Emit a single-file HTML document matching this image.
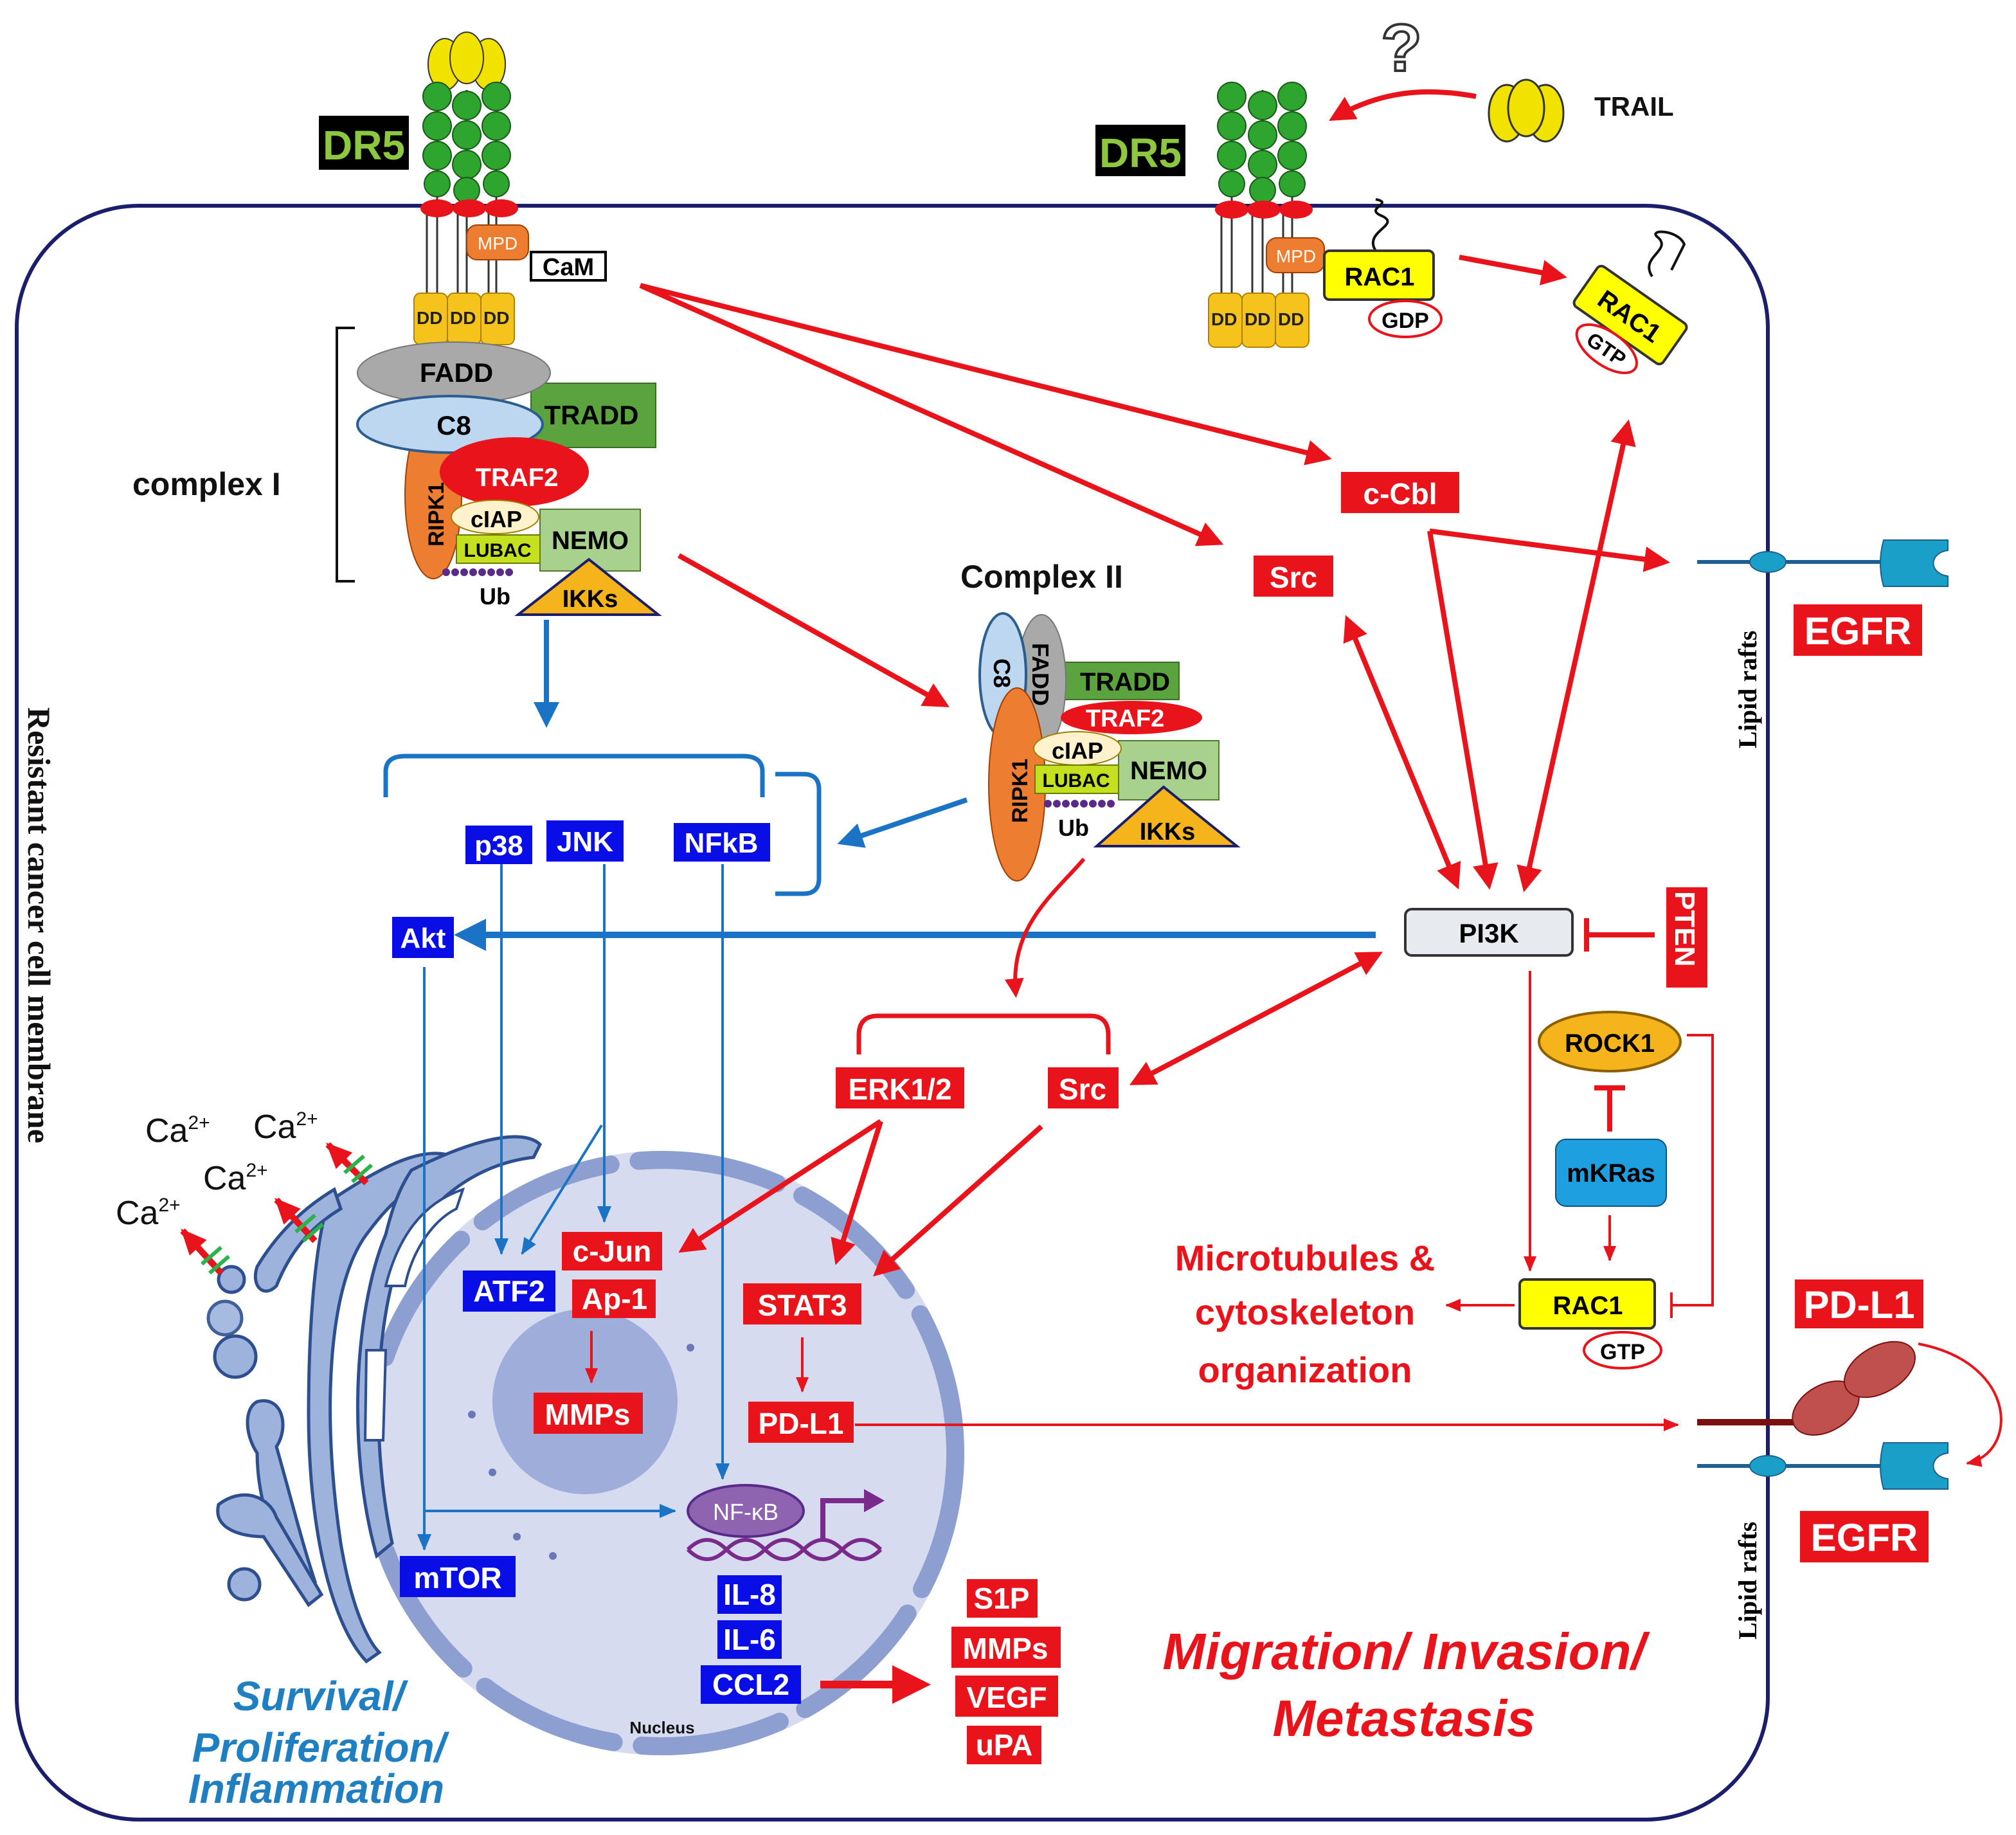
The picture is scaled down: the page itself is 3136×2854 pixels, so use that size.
<!DOCTYPE html>
<html><head><meta charset="utf-8"><style>
html,body{margin:0;padding:0;background:#fff}
svg{display:block}
text{font-family:"Liberation Sans",sans-serif;font-weight:bold}
.w{fill:#fff}
</style></head><body>
<svg width="3136" height="2854" viewBox="0 0 1568 1427" xmlns="http://www.w3.org/2000/svg">
<defs>
<marker id="ar" markerWidth="5" markerHeight="5" refX="4" refY="2.5" orient="auto" markerUnits="strokeWidth"><path d="M0,0 L5,2.5 L0,5z" fill="#e8131b"/></marker>
<marker id="ars" markerWidth="5" markerHeight="5" refX="1" refY="2.5" orient="auto" markerUnits="strokeWidth"><path d="M5,0 L0,2.5 L5,5z" fill="#e8131b"/></marker>
<marker id="art" markerWidth="12" markerHeight="10" refX="11" refY="5" orient="auto" markerUnits="userSpaceOnUse"><path d="M0,0 L12,5 L0,10z" fill="#e8131b"/></marker>
<marker id="arc" markerWidth="20" markerHeight="18" refX="18" refY="9" orient="auto" markerUnits="userSpaceOnUse"><path d="M0,0 L20,9 L0,18z" fill="#e8131b"/></marker>
<marker id="ab" markerWidth="5" markerHeight="5" refX="4" refY="2.5" orient="auto" markerUnits="strokeWidth"><path d="M0,0 L5,2.5 L0,5z" fill="#1a73c4"/></marker>
<marker id="abt" markerWidth="13" markerHeight="11" refX="12" refY="5.5" orient="auto" markerUnits="userSpaceOnUse"><path d="M0,0 L13,5.5 L0,11z" fill="#1a73c4"/></marker>
</defs>

<!-- membrane -->
<rect x="13" y="160" width="1362" height="1255" rx="95" fill="none" stroke="#1b1f6b" stroke-width="3"/>
<text transform="translate(22,550) rotate(90)" style="font-family:'Liberation Serif',serif;font-size:25px" fill="#111">Resistant cancer cell membrane</text>

<!-- nucleus -->
<circle cx="515" cy="1130" r="235" fill="#d6dbef"/>
<circle cx="515" cy="1130" r="228" fill="none" stroke="#8d9fd0" stroke-width="14" stroke-dasharray="110 22" stroke-linecap="round"/>
<ellipse cx="455" cy="1090" rx="72" ry="72" fill="#9eadd9"/>
<g fill="#6b78b8"><circle cx="367" cy="1100" r="3"/><circle cx="383" cy="1145" r="3"/><circle cx="402" cy="1195" r="3"/><circle cx="430" cy="1210" r="3"/><circle cx="537" cy="1048" r="3"/></g>
<text x="515" y="1348" font-size="13" text-anchor="middle" fill="#111">Nucleus</text>

<!-- ER/golgi approximation -->
<g fill="#9eb3dc" stroke="#2d4f8f" stroke-width="2.5">
<path d="M255,935 C300,905 330,890 355,900 L355,915 C320,915 300,940 285,960 C255,1000 250,1100 265,1200 C275,1260 290,1280 295,1285 L285,1292 C255,1260 240,1180 240,1100 C240,1030 245,970 255,935z"/>
<path d="M320,910 C380,880 410,880 420,890 L415,900 C370,905 330,935 310,980 C290,1040 290,1130 305,1200 L293,1210 C270,1130 275,1020 300,960 C305,940 310,925 320,910z"/>
<path d="M200,985 C215,960 235,940 260,925 L265,940 C240,955 225,975 215,1000 C205,1010 195,1000 200,985z"/>
<circle cx="183" cy="1055" r="16"/>
<path d="M200,1090 C220,1085 225,1110 215,1125 C225,1160 235,1200 245,1230 L232,1235 C210,1200 200,1160 200,1130 C190,1115 190,1095 200,1090z"/>
<path d="M170,1170 C190,1155 210,1165 215,1180 L250,1240 L240,1248 L205,1195 C190,1195 165,1190 170,1170z"/>
<circle cx="175" cy="1025" r="13" opacity="0.9"/>
<circle cx="180" cy="995" r="10"/>
<circle cx="190" cy="1232" r="12"/>
</g>
<g fill="#fff" stroke="#2d4f8f" stroke-width="2">
<path d="M300,1000 C310,960 330,935 360,925 L355,940 C335,950 320,975 315,1000z"/>
<path d="M285,1050 L300,1050 L298,1120 L284,1120z"/>
</g>
<!-- Ca -->
<g font-size="26" fill="#111">
<text x="113" y="888" style="font-weight:normal">Ca<tspan font-size="15" dy="-10">2+</tspan></text>
<text x="197" y="885" style="font-weight:normal">Ca<tspan font-size="15" dy="-10">2+</tspan></text>
<text x="158" y="925" style="font-weight:normal">Ca<tspan font-size="15" dy="-10">2+</tspan></text>
<text x="90" y="952" style="font-weight:normal">Ca<tspan font-size="15" dy="-10">2+</tspan></text>
</g>
<g stroke="#e8131b" stroke-width="5" marker-end="url(#arc)">
<line x1="172" y1="990" x2="142" y2="957"/><line x1="245" y1="965" x2="215" y2="933"/><line x1="285" y1="920" x2="255" y2="890"/>
</g>
<g stroke="#2bb24a" stroke-width="3"><line x1="157" y1="983" x2="172" y2="970"/><line x1="163" y1="990" x2="178" y2="977"/><line x1="230" y1="958" x2="245" y2="945"/><line x1="236" y1="965" x2="251" y2="952"/><line x1="268" y1="912" x2="283" y2="899"/><line x1="274" y1="919" x2="289" y2="906"/></g>

<!-- left DR5 -->
<rect x="248" y="90" width="70" height="42" fill="#000"/><text x="283" y="124" font-size="32" text-anchor="middle" fill="#8dc63f">DR5</text>
<g stroke="#333" stroke-width="1.5"><line x1="340" y1="70" x2="340" y2="245"/><line x1="363" y1="70" x2="363" y2="245"/><line x1="386" y1="70" x2="386" y2="245"/><line x1="332" y1="160" x2="332" y2="245"/><line x1="356" y1="160" x2="356" y2="245"/><line x1="380" y1="160" x2="380" y2="245"/></g>
<g fill="#f2e200" stroke="#333"><ellipse cx="346" cy="50" rx="13" ry="20"/><ellipse cx="380" cy="50" rx="13" ry="20"/><ellipse cx="363" cy="45" rx="13" ry="20"/></g>
<g fill="#2ea52e" stroke="#1a5a1a">
<circle cx="340" cy="75" r="11"/><circle cx="340" cy="98" r="11"/><circle cx="340" cy="121" r="11"/><circle cx="340" cy="143" r="10"/>
<circle cx="363" cy="82" r="11"/><circle cx="363" cy="105" r="11"/><circle cx="363" cy="128" r="11"/><circle cx="363" cy="148" r="10"/>
<circle cx="386" cy="75" r="11"/><circle cx="386" cy="98" r="11"/><circle cx="386" cy="121" r="11"/><circle cx="386" cy="143" r="10"/></g>
<g fill="#e8131b"><ellipse cx="340" cy="162" rx="13" ry="7"/><ellipse cx="365" cy="162" rx="13" ry="7"/><ellipse cx="390" cy="162" rx="13" ry="7"/></g>
<rect x="363" y="175" width="48" height="27" rx="8" fill="#ed7d31" stroke="#a04000"/><text x="387" y="194" font-size="14" text-anchor="middle" fill="#fff" style="font-weight:normal">MPD</text>
<rect x="413" y="196" width="58" height="22" fill="#fff" stroke="#000" stroke-width="2"/><text x="442" y="214" font-size="19" text-anchor="middle">CaM</text>
<g fill="#f6c21c" stroke="#b08000"><rect x="322" y="228" width="26" height="40" rx="5"/><rect x="348" y="228" width="26" height="40" rx="5"/><rect x="374" y="228" width="26" height="40" rx="5"/></g>
<g font-size="14" style="font-weight:normal" fill="#222"><text x="324" y="252">DD</text><text x="350" y="252">DD</text><text x="376" y="252">DD</text></g>

<!-- complex I -->
<path d="M276,255 L262,255 L262,452 L276,452" fill="none" stroke="#111" stroke-width="2"/>
<text x="103" y="385" font-size="25" fill="#111">complex I</text>
<rect x="413" y="298" width="97" height="50" fill="#5aa33e" stroke="#3b6e28"/><text x="460" y="330" font-size="21" text-anchor="middle">TRADD</text>
<ellipse cx="337" cy="385" rx="22" ry="65" fill="#ed7d31" stroke="#a04000"/><text transform="translate(345,425) rotate(-90)" font-size="17">RIPK1</text>
<ellipse cx="353" cy="290" rx="75" ry="24" fill="#a9a9a9" stroke="#777"/><text x="355" y="297" font-size="21" text-anchor="middle">FADD</text>
<ellipse cx="350" cy="330" rx="72" ry="22" fill="#bcd7ef" stroke="#2d5d8f" stroke-width="2"/><text x="353" y="338" font-size="21" text-anchor="middle">C8</text>
<ellipse cx="400" cy="367" rx="58" ry="27" fill="#e8131b"/><text x="402" y="378" font-size="20" text-anchor="middle" class="w">TRAF2</text>
<rect x="420" y="396" width="78" height="48" fill="#a9d18e" stroke="#4f7a30"/><text x="459" y="427" font-size="20" text-anchor="middle">NEMO</text>
<ellipse cx="385" cy="402" rx="34" ry="13" fill="#fff2cc" stroke="#a08000"/><text x="386" y="410" font-size="18" text-anchor="middle">cIAP</text>
<rect x="355" y="416" width="65" height="22" fill="#c5e01e" stroke="#6a7a00"/><text x="387" y="433" font-size="15" text-anchor="middle">LUBAC</text>
<g fill="#5a2a8a"><circle cx="347" cy="445" r="3"/><circle cx="354" cy="445" r="3"/><circle cx="361" cy="445" r="3"/><circle cx="368" cy="445" r="3"/><circle cx="375" cy="445" r="3"/><circle cx="382" cy="445" r="3"/><circle cx="389" cy="445" r="3"/><circle cx="396" cy="445" r="3"/></g>
<text x="373" y="470" font-size="18">Ub</text>
<path d="M403,478 L458,435 L512,478z" fill="#f6b41c" stroke="#1b1f6b" stroke-width="2"/><text x="459" y="472" font-size="19" text-anchor="middle">IKKs</text>

<!-- blue bracket and arrows -->
<line x1="425" y1="482" x2="425" y2="562" stroke="#1a73c4" stroke-width="4" marker-end="url(#ab)"/>
<path d="M300,620 L300,600 Q300,588 315,588 L578,588 Q593,588 593,600 L593,620" fill="none" stroke="#1a73c4" stroke-width="3.5"/>
<path d="M603,602 L625,602 Q637,602 637,614 L637,683 Q637,695 625,695 L603,695" fill="none" stroke="#1a73c4" stroke-width="3.5"/>
<line x1="752" y1="622" x2="655" y2="655" stroke="#1a73c4" stroke-width="4" marker-end="url(#ab)"/>
<rect x="362" y="642" width="52" height="30" fill="#0a0ee6"/><text x="388" y="665" font-size="22" text-anchor="middle" class="w">p38</text>
<rect x="425" y="638" width="60" height="32" fill="#0a0ee6"/><text x="455" y="662" font-size="22" text-anchor="middle" class="w">JNK</text>
<rect x="524" y="640" width="75" height="30" fill="#0a0ee6"/><text x="561" y="663" font-size="22" text-anchor="middle" class="w">NFkB</text>
<rect x="305" y="713" width="48" height="32" fill="#0a0ee6"/><text x="329" y="737" font-size="22" text-anchor="middle" class="w">Akt</text>
<line x1="1070" y1="727" x2="358" y2="727" stroke="#1a73c4" stroke-width="5" marker-end="url(#ab)"/>
<g stroke="#1a73c4" stroke-width="2" fill="none" marker-end="url(#abt)">
<line x1="390" y1="672" x2="390" y2="975"/>
<line x1="470" y1="672" x2="470" y2="950"/>
<line x1="468" y1="875" x2="406" y2="975"/>
<line x1="562" y1="672" x2="562" y2="1150"/>
<line x1="330" y1="752" x2="330" y2="1205"/>
<line x1="330" y1="1175" x2="525" y2="1175"/>
</g>

<!-- complex II -->
<text x="747" y="457" font-size="25" fill="#111">Complex II</text>
<rect x="822" y="515" width="95" height="29" fill="#5aa33e" stroke="#3b6e28"/><text x="875" y="537" font-size="20" text-anchor="middle">TRADD</text>
<ellipse cx="810" cy="530" rx="19" ry="52" fill="#a9a9a9" stroke="#777"/><text transform="translate(803,500) rotate(90)" font-size="18">FADD</text>
<ellipse cx="780" cy="525" rx="18" ry="48" fill="#bcd7ef" stroke="#2d5d8f" stroke-width="2"/><text transform="translate(773,512) rotate(90)" font-size="18">C8</text>
<ellipse cx="880" cy="558" rx="55" ry="13" fill="#e8131b"/><text x="875" y="565" font-size="19" text-anchor="middle" class="w">TRAF2</text>
<ellipse cx="791" cy="610" rx="22" ry="75" fill="#ed7d31" stroke="#a04000"/><text transform="translate(799,640) rotate(-90)" font-size="17">RIPK1</text>
<rect x="870" y="576" width="78" height="46" fill="#a9d18e" stroke="#4f7a30"/><text x="909" y="606" font-size="20" text-anchor="middle">NEMO</text>
<ellipse cx="838" cy="582" rx="34" ry="13" fill="#fff2cc" stroke="#a08000"/><text x="838" y="590" font-size="18" text-anchor="middle">cIAP</text>
<rect x="805" y="595" width="65" height="22" fill="#c5e01e" stroke="#6a7a00"/><text x="837" y="612" font-size="15" text-anchor="middle">LUBAC</text>
<g fill="#5a2a8a"><circle cx="815" cy="625" r="3"/><circle cx="822" cy="625" r="3"/><circle cx="829" cy="625" r="3"/><circle cx="836" cy="625" r="3"/><circle cx="843" cy="625" r="3"/><circle cx="850" cy="625" r="3"/><circle cx="857" cy="625" r="3"/><circle cx="864" cy="625" r="3"/></g>
<text x="823" y="650" font-size="18">Ub</text>
<path d="M853,658 L905,612 L962,658z" fill="#f6b41c" stroke="#1b1f6b" stroke-width="2"/><text x="908" y="653" font-size="19" text-anchor="middle">IKKs</text>

<!-- red arrows upper -->
<g stroke="#e8131b" stroke-width="4" fill="none">
<line x1="498" y1="222" x2="1032" y2="356" marker-end="url(#ar)"/>
<line x1="498" y1="222" x2="948" y2="422" marker-end="url(#ar)"/>
<line x1="528" y1="432" x2="735" y2="548" marker-end="url(#ar)"/>
<line x1="1112" y1="413" x2="1295" y2="437" marker-end="url(#ar)"/>
<line x1="1112" y1="413" x2="1158" y2="688" marker-end="url(#ar)"/>
<line x1="1048" y1="482" x2="1133" y2="688" marker-end="url(#ar)" marker-start="url(#ars)"/>
<line x1="1266" y1="330" x2="1186" y2="690" marker-end="url(#ar)" marker-start="url(#ars)"/>
<line x1="1072" y1="742" x2="882" y2="842" marker-end="url(#ar)" marker-start="url(#ars)"/>
<path d="M843,668 C820,695 785,720 790,773" marker-end="url(#ar)" stroke-width="3"/>
<path d="M668,820 L668,805 Q668,790 683,790 L848,790 Q862,790 862,805 L862,820" stroke-width="3.5"/>
<line x1="685" y1="872" x2="531" y2="972" marker-end="url(#ar)"/>
<line x1="685" y1="872" x2="651" y2="980" marker-end="url(#ar)"/>
<line x1="810" y1="876" x2="682" y2="990" marker-end="url(#ar)"/>
<line x1="1135" y1="200" x2="1215" y2="215" marker-end="url(#ar)"/>
<path d="M1148,75 C1110,68 1075,70 1037,92" marker-end="url(#ar)"/>
</g>
<rect x="1043" y="367" width="92" height="32" fill="#e8131b"/><text x="1089" y="392" font-size="23" text-anchor="middle" class="w">c-Cbl</text>
<rect x="975" y="432" width="62" height="32" fill="#e8131b"/><text x="1006" y="457" font-size="23" text-anchor="middle" class="w">Src</text>
<rect x="650" y="830" width="100" height="32" fill="#e8131b"/><text x="700" y="855" font-size="23" text-anchor="middle" class="w">ERK1/2</text>
<rect x="815" y="830" width="55" height="32" fill="#e8131b"/><text x="842" y="855" font-size="23" text-anchor="middle" class="w">Src</text>

<!-- PI3K -->
<rect x="1093" y="707" width="130" height="36" rx="5" fill="#e7ebf0" stroke="#333" stroke-width="2"/><text x="1158" y="733" font-size="21" text-anchor="middle">PI3K</text>
<rect x="1296" y="690" width="32" height="78" fill="#e8131b"/><text transform="translate(1303,693) rotate(90)" font-size="22" class="w">PTEN</text>
<g stroke="#e8131b" stroke-width="4"><line x1="1287" y1="727" x2="1234" y2="727"/><line x1="1234" y1="714" x2="1234" y2="740"/>
<line x1="1252" y1="880" x2="1252" y2="846"/><line x1="1240" y1="846" x2="1264" y2="846"/></g>
<g stroke="#e8131b" stroke-width="2" fill="none"><line x1="1190" y1="755" x2="1190" y2="988" marker-end="url(#art)"/><line x1="1252" y1="945" x2="1252" y2="980" marker-end="url(#art)"/>
<line x1="1178" y1="1015" x2="1125" y2="1015" marker-end="url(#art)"/>
<path d="M1312,805 L1332,805 L1332,1015 L1300,1015"/><line x1="1300" y1="1005" x2="1300" y2="1025"/>
<line x1="665" y1="1108" x2="1305" y2="1108" marker-end="url(#art)"/>
<path d="M1492,1045 C1570,1060 1570,1130 1530,1138" marker-end="url(#art)"/></g>
<ellipse cx="1252" cy="810" rx="55" ry="23" fill="#f6b41c" stroke="#8a6000" stroke-width="2"/><text x="1252" y="818" font-size="20" text-anchor="middle">ROCK1</text>
<rect x="1210" y="886" width="86" height="52" rx="8" fill="#1ea0e0" stroke="#0a5080"/><text x="1253" y="919" font-size="20" text-anchor="middle">mKRas</text>
<rect x="1182" y="995" width="105" height="38" rx="4" fill="#ffff00" stroke="#333" stroke-width="2"/><text x="1235" y="1022" font-size="20" text-anchor="middle">RAC1</text>
<ellipse cx="1262" cy="1050" rx="30" ry="14" fill="#fff" stroke="#e8131b" stroke-width="2"/><text x="1262" y="1057" font-size="17" text-anchor="middle">GTP</text>
<g font-size="28" fill="#e8131b" text-anchor="middle"><text x="1015" y="988">Microtubules &amp;</text><text x="1015" y="1030">cytoskeleton</text><text x="1015" y="1075">organization</text></g>

<!-- nucleus boxes -->
<rect x="437" y="958" width="78" height="30" fill="#e8131b"/><text x="476" y="981" font-size="23" text-anchor="middle" class="w">c-Jun</text>
<rect x="445" y="995" width="65" height="30" fill="#e8131b"/><text x="478" y="1018" font-size="23" text-anchor="middle" class="w">Ap-1</text>
<rect x="360" y="988" width="72" height="32" fill="#0a0ee6"/><text x="396" y="1012" font-size="23" text-anchor="middle" class="w">ATF2</text>
<line x1="460" y1="1035" x2="460" y2="1075" stroke="#e8131b" stroke-width="2" marker-end="url(#art)"/>
<rect x="415" y="1083" width="85" height="32" fill="#e8131b"/><text x="457" y="1108" font-size="23" text-anchor="middle" class="w">MMPs</text>
<rect x="578" y="998" width="92" height="32" fill="#e8131b"/><text x="624" y="1023" font-size="23" text-anchor="middle" class="w">STAT3</text>
<line x1="624" y1="1040" x2="624" y2="1082" stroke="#e8131b" stroke-width="2" marker-end="url(#art)"/>
<rect x="582" y="1090" width="82" height="32" fill="#e8131b"/><text x="623" y="1115" font-size="23" text-anchor="middle" class="w">PD-L1</text>
<rect x="311" y="1210" width="90" height="32" fill="#0a0ee6"/><text x="356" y="1235" font-size="23" text-anchor="middle" class="w">mTOR</text>
<!-- NF-kB and DNA -->
<path d="M535,1205 Q550,1190 565,1205 T595,1205 T625,1205 T655,1205 T685,1205" fill="none" stroke="#7a2a8a" stroke-width="3"/>
<path d="M535,1205 Q550,1220 565,1205 T595,1205 T625,1205 T655,1205 T685,1205" fill="none" stroke="#7a2a8a" stroke-width="3"/>
<ellipse cx="580" cy="1175" rx="45" ry="20" fill="#8e63b0" stroke="#5a2a8a" stroke-width="2"/><text x="580" y="1182" font-size="18" text-anchor="middle" class="w" style="font-weight:normal">NF-κB</text>
<path d="M640,1198 L640,1167 L675,1167" fill="none" stroke="#7a2a8a" stroke-width="4"/><path d="M672,1158 L688,1167 L672,1176z" fill="#7a2a8a"/>
<rect x="558" y="1225" width="50" height="30" fill="#0a0ee6"/><text x="583" y="1248" font-size="23" text-anchor="middle" class="w">IL-8</text>
<rect x="558" y="1260" width="50" height="30" fill="#0a0ee6"/><text x="583" y="1283" font-size="23" text-anchor="middle" class="w">IL-6</text>
<rect x="545" y="1295" width="78" height="30" fill="#0a0ee6"/><text x="584" y="1318" font-size="23" text-anchor="middle" class="w">CCL2</text>
<line x1="638" y1="1310" x2="718" y2="1310" stroke="#e8131b" stroke-width="6" marker-end="url(#ar)"/>
<rect x="752" y="1228" width="55" height="30" fill="#e8131b"/><text x="779" y="1251" font-size="23" text-anchor="middle" class="w">S1P</text>
<rect x="740" y="1265" width="85" height="32" fill="#e8131b"/><text x="782" y="1290" font-size="23" text-anchor="middle" class="w">MMPs</text>
<rect x="743" y="1303" width="80" height="32" fill="#e8131b"/><text x="783" y="1328" font-size="23" text-anchor="middle" class="w">VEGF</text>
<rect x="752" y="1342" width="58" height="30" fill="#e8131b"/><text x="781" y="1365" font-size="23" text-anchor="middle" class="w">uPA</text>
<g font-size="32" fill="#1f7fc0" font-style="italic" text-anchor="middle"><text x="248" y="1330">Survival/</text><text x="248" y="1370">Proliferation/</text><text x="246" y="1402">Inflammation</text></g>
<g font-size="40" fill="#e8131b" font-style="italic" text-anchor="middle"><text x="1092" y="1298">Migration/ Invasion/</text><text x="1092" y="1350">Metastasis</text></g>

<!-- right DR5 -->
<rect x="852" y="97" width="70" height="40" fill="#000"/><text x="887" y="130" font-size="32" text-anchor="middle" fill="#8dc63f">DR5</text>
<g stroke="#333" stroke-width="1.5"><line x1="958" y1="70" x2="958" y2="270"/><line x1="982" y1="70" x2="982" y2="270"/><line x1="1005" y1="70" x2="1005" y2="270"/><line x1="950" y1="165" x2="950" y2="270"/><line x1="974" y1="165" x2="974" y2="270"/><line x1="998" y1="165" x2="998" y2="270"/></g>
<g fill="#2ea52e" stroke="#1a5a1a">
<circle cx="958" cy="75" r="11"/><circle cx="958" cy="98" r="11"/><circle cx="958" cy="121" r="11"/><circle cx="958" cy="143" r="10"/>
<circle cx="982" cy="82" r="11"/><circle cx="982" cy="105" r="11"/><circle cx="982" cy="128" r="11"/><circle cx="982" cy="148" r="10"/>
<circle cx="1005" cy="75" r="11"/><circle cx="1005" cy="98" r="11"/><circle cx="1005" cy="121" r="11"/><circle cx="1005" cy="143" r="10"/></g>
<g fill="#e8131b"><ellipse cx="958" cy="163" rx="13" ry="7"/><ellipse cx="983" cy="163" rx="13" ry="7"/><ellipse cx="1008" cy="163" rx="13" ry="7"/></g>
<rect x="985" y="185" width="45" height="27" rx="8" fill="#ed7d31" stroke="#a04000"/><text x="1008" y="204" font-size="14" text-anchor="middle" fill="#fff" style="font-weight:normal">MPD</text>
<g fill="#f6c21c" stroke="#b08000"><rect x="940" y="228" width="26" height="42" rx="5"/><rect x="966" y="228" width="26" height="42" rx="5"/><rect x="992" y="228" width="26" height="42" rx="5"/></g>
<g font-size="14" style="font-weight:normal" fill="#222"><text x="942" y="253">DD</text><text x="968" y="253">DD</text><text x="994" y="253">DD</text></g>
<path d="M1070,195 C1060,180 1090,175 1075,168 C1060,162 1085,158 1070,155" fill="none" stroke="#111" stroke-width="2"/>
<rect x="1030" y="195" width="85" height="38" rx="4" fill="#ffff00" stroke="#333" stroke-width="2"/><text x="1073" y="222" font-size="20" text-anchor="middle">RAC1</text>
<ellipse cx="1093" cy="248" rx="28" ry="14" fill="#fff" stroke="#e8131b" stroke-width="2"/><text x="1093" y="255" font-size="17" text-anchor="middle">GDP</text>
<g transform="translate(1268,245) rotate(35)"><rect x="-42" y="-19" width="84" height="38" rx="4" fill="#ffff00" stroke="#333" stroke-width="2"/><text x="0" y="8" font-size="20" text-anchor="middle">RAC1</text><ellipse cx="0" cy="32" rx="27" ry="13" fill="#fff" stroke="#e8131b" stroke-width="2"/><text x="0" y="38" font-size="16" text-anchor="middle">GTP</text></g>
<path d="M1285,215 C1275,200 1300,195 1290,185 C1280,178 1305,178 1310,190 L1300,210" fill="none" stroke="#111" stroke-width="2"/>
<text x="1090" y="55" font-size="52" text-anchor="middle" fill="#fff" stroke="#333" stroke-width="2">?</text>
<g fill="#f2e200" stroke="#333" stroke-width="1.5"><ellipse cx="1172" cy="88" rx="14" ry="22"/><ellipse cx="1202" cy="88" rx="14" ry="22"/><ellipse cx="1187" cy="84" rx="14" ry="22"/></g>
<text x="1240" y="90" font-size="21" fill="#111">TRAIL</text>

<!-- EGFRs -->
<g stroke="#1f5f8f" stroke-width="3"><line x1="1320" y1="437" x2="1468" y2="437"/><line x1="1320" y1="1140" x2="1468" y2="1140"/></g>
<ellipse cx="1375" cy="437" rx="14" ry="8" fill="#1aa0c8" stroke="#1f5f8f"/>
<ellipse cx="1375" cy="1140" rx="14" ry="8" fill="#1aa0c8" stroke="#1f5f8f"/>
<path d="M1465,420 L1515,420 L1515,428 C1500,430 1500,446 1515,448 L1515,456 L1465,456 Q1460,438 1465,420z" fill="#1aa0c8" stroke="#1f5f8f"/>
<path d="M1465,1122 L1515,1122 L1515,1130 C1500,1132 1500,1148 1515,1150 L1515,1158 L1465,1158 Q1460,1140 1465,1122z" fill="#1aa0c8" stroke="#1f5f8f"/>
<text transform="translate(1366,582) rotate(-90)" style="font-family:'Liberation Serif',serif;font-size:20px">Lipid rafts</text>
<text transform="translate(1366,1275) rotate(-90)" style="font-family:'Liberation Serif',serif;font-size:20px">Lipid rafts</text>
<rect x="1395" y="470" width="100" height="40" fill="#e8131b"/><text x="1445" y="501" font-size="30" text-anchor="middle" class="w">EGFR</text>
<rect x="1400" y="1175" width="100" height="40" fill="#e8131b"/><text x="1450" y="1206" font-size="30" text-anchor="middle" class="w">EGFR</text>
<rect x="1396" y="995" width="100" height="38" fill="#e8131b"/><text x="1446" y="1025" font-size="30" text-anchor="middle" class="w">PD-L1</text>
<line x1="1320" y1="1106" x2="1400" y2="1106" stroke="#7a1010" stroke-width="5"/>
<ellipse cx="1420" cy="1095" rx="28" ry="18" transform="rotate(-30 1420 1095)" fill="#c0504d" stroke="#7a1010"/>
<ellipse cx="1462" cy="1065" rx="30" ry="18" transform="rotate(-30 1462 1065)" fill="#c0504d" stroke="#7a1010"/>
</svg>
</body></html>
